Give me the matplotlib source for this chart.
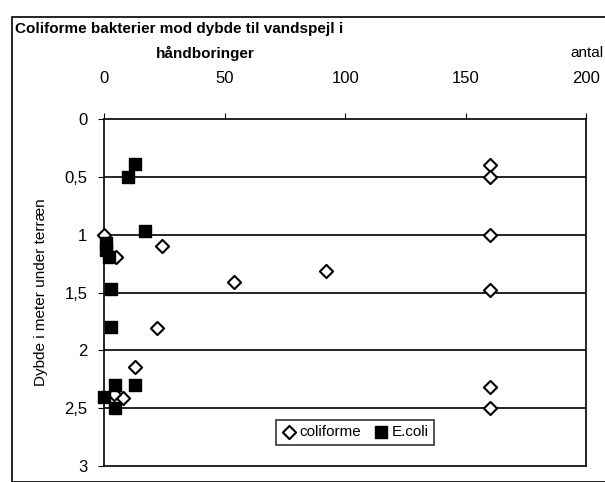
import matplotlib.pyplot as plt
from matplotlib.patches import Rectangle

plt.rcParams['font.family'] = ['Liberation Sans', 'DejaVu Sans']

# coliforme (diamonds): antal, dybde
coli_x = [160, 160, 160, 160, 160, 160, 0, 5, 24, 54, 92, 22, 13, 8, 4]
coli_y = [0.4, 0.5, 1.0, 1.48, 2.32, 2.5, 1.0, 1.19, 1.1, 1.41, 1.31, 1.81, 2.14, 2.41, 2.38]

# E.coli (squares)
ecoli_x = [13, 10, 17, 1, 1, 2, 3, 3, 4.5, 13, 0, 4.5]
ecoli_y = [0.39, 0.5, 0.97, 1.07, 1.13, 1.19, 1.47, 1.8, 2.3, 2.3, 2.4, 2.5]

yticks = [0, 0.5, 1, 1.5, 2, 2.5, 3]
ytick_labels = ['0', '0,5', '1', '1,5', '2', '2,5', '3']
xticks = [0, 50, 100, 150, 200]

fig = plt.figure(figsize=(6.05, 4.82), dpi=100)
ax = fig.add_axes([0.172, 0.033, 0.797, 0.72])

for y in yticks[1:-1]:
    ax.axhline(y, color='black', lw=1.2, zorder=1)

ax.scatter(coli_x, coli_y, marker='D', s=45, facecolors='white', edgecolors='black',
           linewidths=1.5, zorder=3, label='coliforme', clip_on=False)
ax.scatter(ecoli_x, ecoli_y, marker='s', s=75, facecolors='black', edgecolors='black',
           zorder=4, label='E.coli', clip_on=False)

ax.set_xlim(0, 200)
ax.set_ylim(3, 0)
ax.xaxis.tick_top()
ax.set_xticks(xticks)
ax.set_xticklabels([str(v) for v in xticks])
ax.set_yticks(yticks)
ax.set_yticklabels(ytick_labels)
ax.tick_params(axis='both', labelsize=12, direction='out', length=4, color='black', pad=8)
ax.tick_params(axis='x', pad=20)
for sp in ax.spines.values():
    sp.set_color('black')
    sp.set_linewidth(1.2)

ax.set_ylabel('Dybde i meter under terræn', fontsize=11, labelpad=12)

leg = ax.legend(loc='lower center', bbox_to_anchor=(0.52, 0.04), ncol=2, fontsize=11,
                frameon=True, fancybox=False, edgecolor='black', handletextpad=0.2,
                columnspacing=0.8, borderpad=0.35, handlelength=1.0)
leg.get_frame().set_linewidth(1.2)

fig.text(0.025, 0.94, 'Coliforme bakterier mod dybde til vandspejl i', fontsize=11,
         fontweight='bold', ha='left', va='center')
fig.text(0.34, 0.89, 'håndboringer', fontsize=11, fontweight='bold', ha='center', va='center')
fig.text(0.998, 0.89, 'antal', fontsize=11, ha='right', va='center')

fig.patches.append(Rectangle((0.02, 0.0), 1.0, 0.965, transform=fig.transFigure,
                             fill=False, edgecolor='black', lw=1.2))

fig.savefig('out.png', dpi=100)
